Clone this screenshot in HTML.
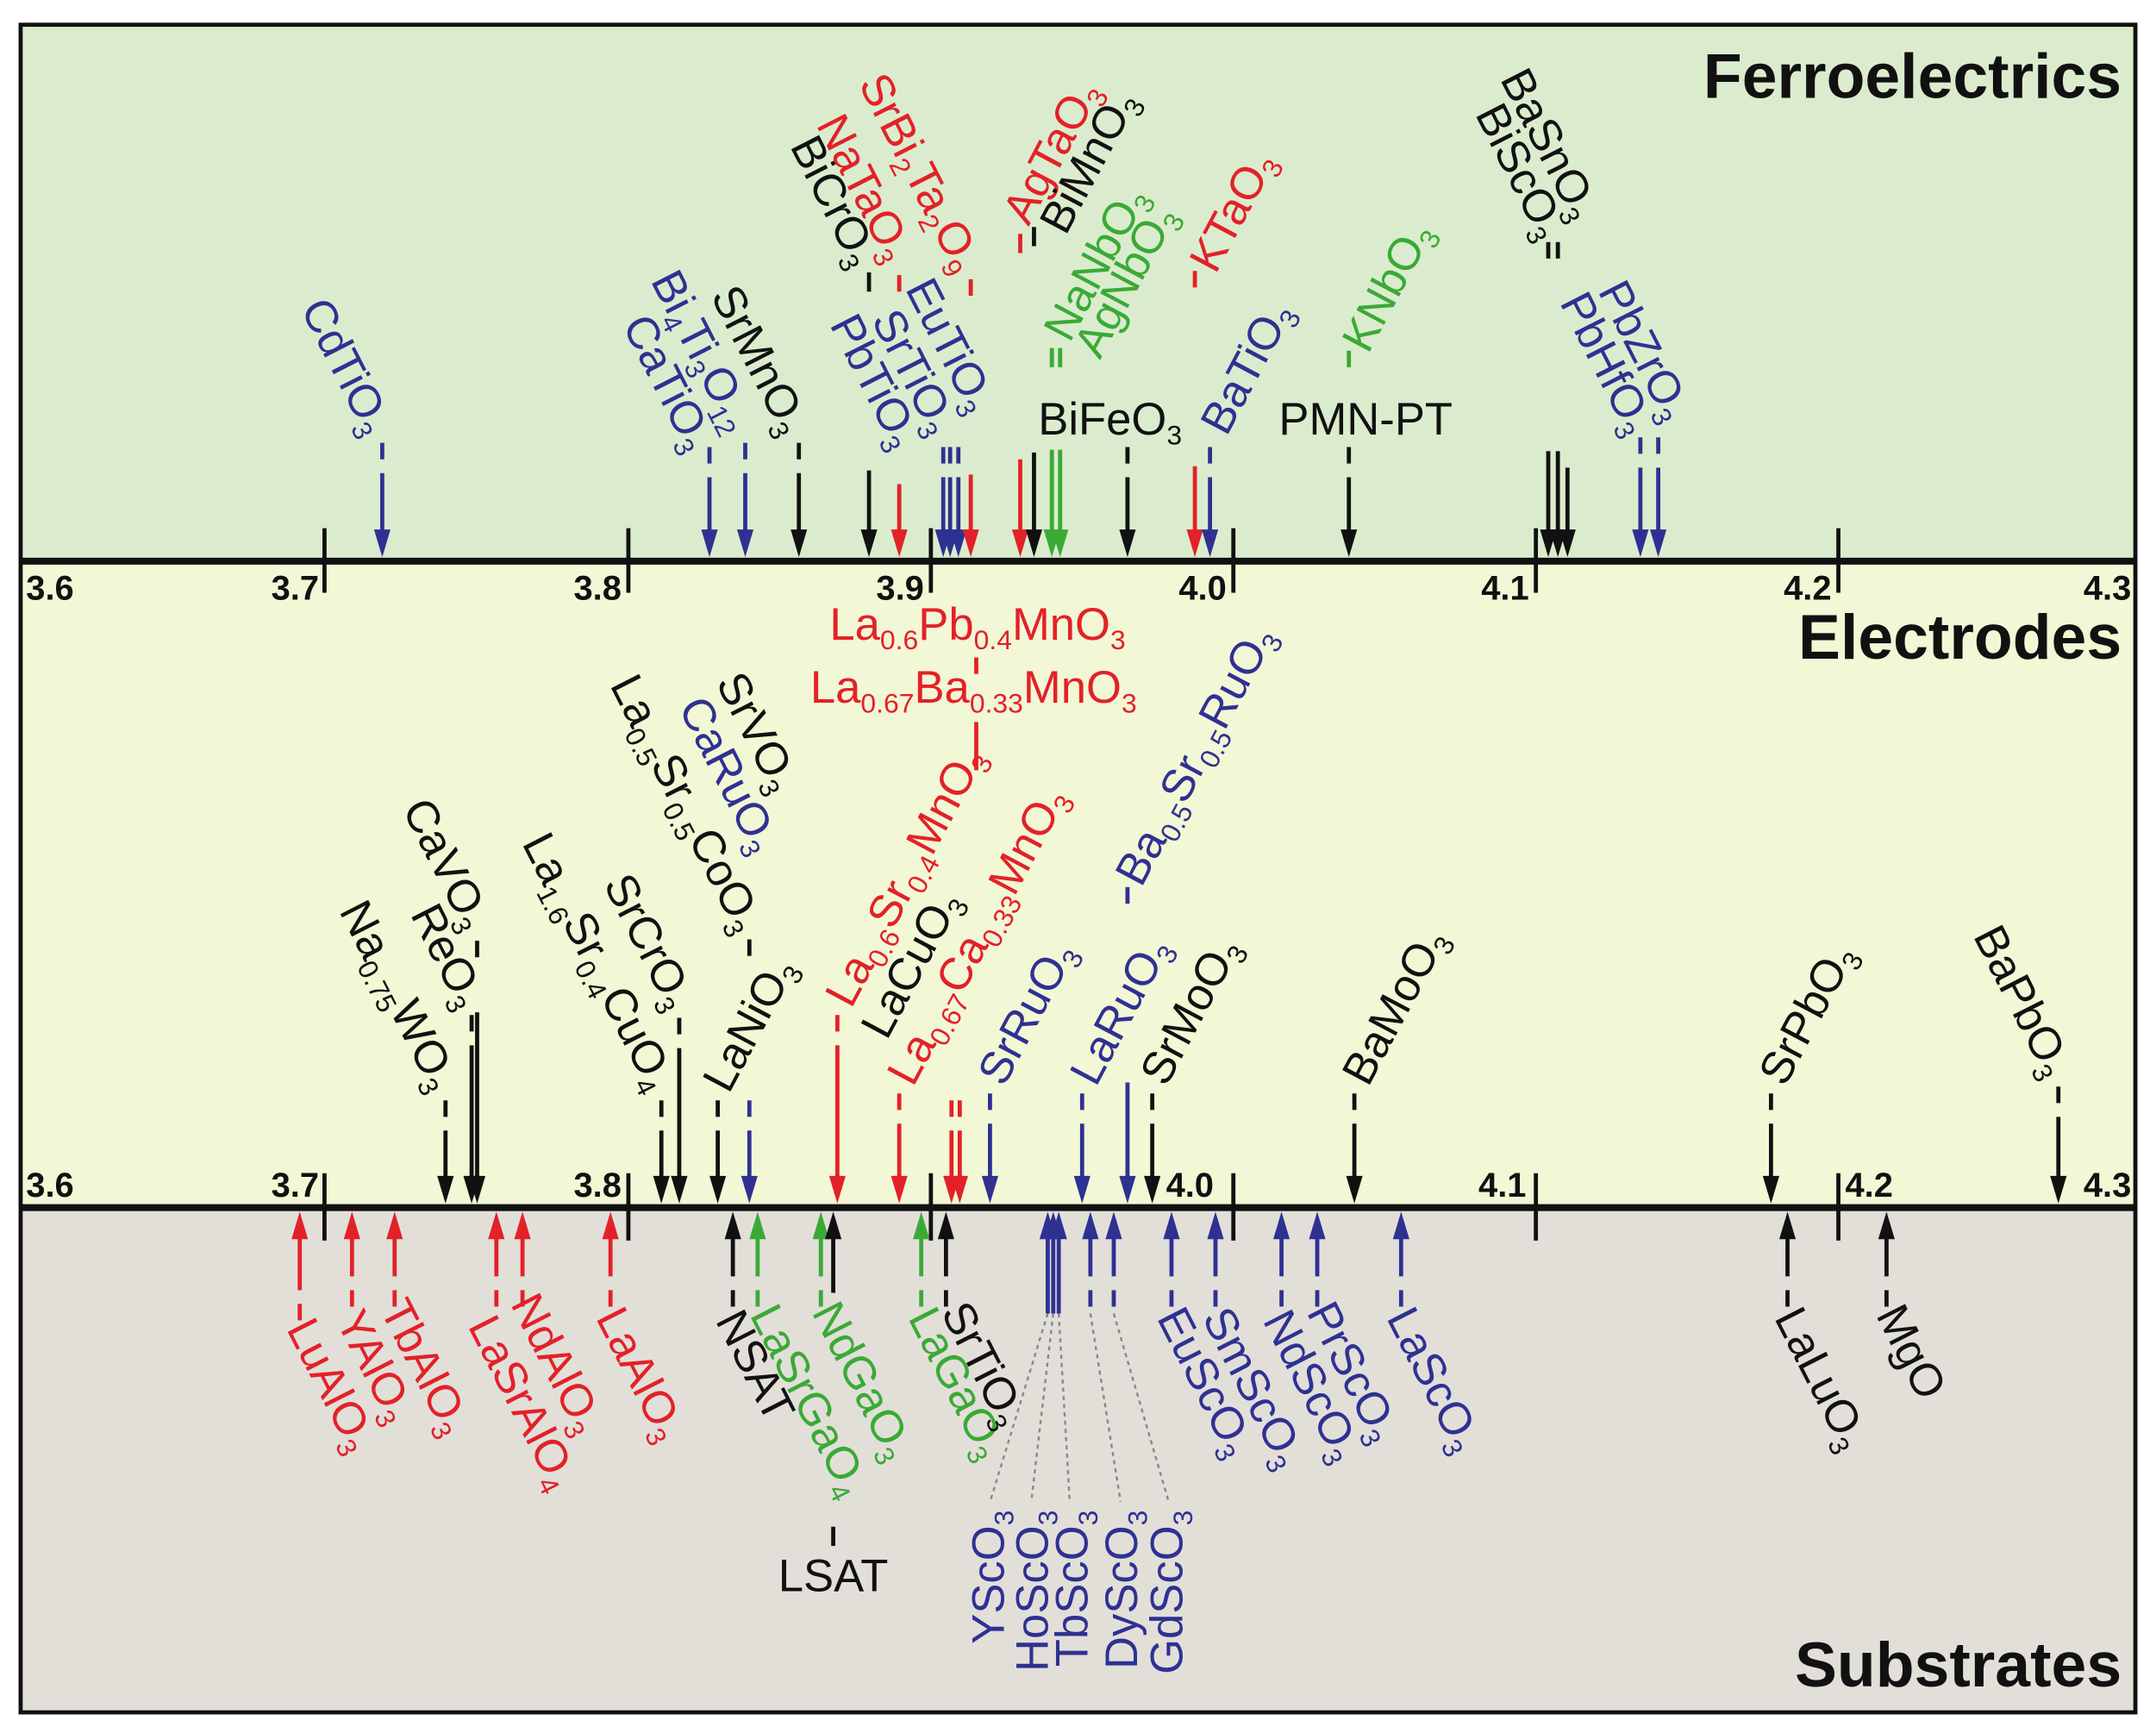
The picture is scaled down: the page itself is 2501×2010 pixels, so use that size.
<!DOCTYPE html>
<html><head><meta charset="utf-8"><style>
html,body{margin:0;padding:0;background:#fff}
svg{display:block}
text{font-family:"Liberation Sans",Arial,sans-serif;font-size:33px}
text.t{font-size:46px;font-weight:bold}
text.ax{font-size:25px;font-weight:bold}
.s{font-size:20px}
.k{fill:#111}.r{fill:#e32128}.u{fill:#2e3192}.g{fill:#3aaa35}
.lk{stroke:#111}.lr{stroke:#e32128}.lu{stroke:#2e3192}.lg{stroke:#3aaa35}
path{fill:none;stroke-width:3}
</style></head><body>
<svg width="2501" height="2010" viewBox="0 0 1568 1260" preserveAspectRatio="none" xmlns="http://www.w3.org/2000/svg">
<rect x="0" y="0" width="1568" height="1260" fill="#fff"/>
<rect x="15" y="18" width="1538" height="390" fill="#dbecce"/>
<rect x="15" y="408" width="1538" height="470" fill="#f2f7d5"/>
<rect x="15" y="878" width="1538" height="367" fill="#e2dfd9"/>
<rect x="15" y="18" width="1538" height="1227" fill="none" stroke="#111" stroke-width="3"/>
<line x1="15" y1="408" x2="1553" y2="408" stroke="#111" stroke-width="5"/>
<line x1="15" y1="878" x2="1553" y2="878" stroke="#111" stroke-width="5"/>
<g stroke="#111" stroke-width="3">
<line x1="236" y1="384" x2="236" y2="431"/><line x1="457" y1="384" x2="457" y2="431"/><line x1="677" y1="384" x2="677" y2="431"/><line x1="897" y1="384" x2="897" y2="431"/><line x1="1117" y1="384" x2="1117" y2="431"/><line x1="1337" y1="384" x2="1337" y2="431"/>
<line x1="236" y1="853" x2="236" y2="902"/><line x1="457" y1="853" x2="457" y2="902"/><line x1="677" y1="853" x2="677" y2="902"/><line x1="897" y1="853" x2="897" y2="902"/><line x1="1117" y1="853" x2="1117" y2="902"/><line x1="1337" y1="853" x2="1337" y2="902"/>
</g>
<g class="k">
<text class="ax" x="19" y="436">3.6</text><text class="ax" x="232" y="436" text-anchor="end">3.7</text><text class="ax" x="452" y="436" text-anchor="end">3.8</text><text class="ax" x="672" y="436" text-anchor="end">3.9</text><text class="ax" x="892" y="436" text-anchor="end">4.0</text><text class="ax" x="1112" y="436" text-anchor="end">4.1</text><text class="ax" x="1332" y="436" text-anchor="end">4.2</text><text class="ax" x="1550" y="436" text-anchor="end">4.3</text>
<text class="ax" x="19" y="870">3.6</text><text class="ax" x="232" y="870" text-anchor="end">3.7</text><text class="ax" x="452" y="870" text-anchor="end">3.8</text><text class="ax" x="848" y="870">4.0</text><text class="ax" x="1110" y="870" text-anchor="end">4.1</text><text class="ax" x="1342" y="870">4.2</text><text class="ax" x="1550" y="870" text-anchor="end">4.3</text>
<text class="t" x="1543" y="71" text-anchor="end">Ferroelectrics</text>
<text class="t" x="1543" y="479" text-anchor="end">Electrodes</text>
<text class="t" x="1543" y="1226" text-anchor="end">Substrates</text>
</g>

<path class="lu" d="M278 322v12m0 10V387"/><polygon class="u" points="272,385 284,385 278,405"/>
<path class="lu" d="M516 325v12m0 10V387"/><polygon class="u" points="510,385 522,385 516,405"/>
<path class="lu" d="M542 322v12m0 10V387"/><polygon class="u" points="536,385 548,385 542,405"/>
<path class="lk" d="M581 322v12m0 10V387"/><polygon class="k" points="575,385 587,385 581,405"/>
<path class="lk" d="M632 198v14m0 130V387"/><polygon class="k" points="626,385 638,385 632,405"/>
<path class="lr" d="M654 200v12m0 140V387"/><polygon class="r" points="648,385 660,385 654,405"/>
<path class="lu" d="M686 325v12m0 10V387"/><polygon class="u" points="680,385 692,385 686,405"/>
<path class="lu" d="M691 325v12m0 10V387"/><polygon class="u" points="685,385 697,385 691,405"/>
<path class="lu" d="M697 325v12m0 10V387"/><polygon class="u" points="691,385 703,385 697,405"/>
<path class="lr" d="M706 203v12m0 130V387"/><polygon class="r" points="700,385 712,385 706,405"/>
<path class="lr" d="M742 170v14m0 150V387"/><polygon class="r" points="736,385 748,385 742,405"/>
<path class="lk" d="M752 165v14m0 150V387"/><polygon class="k" points="746,385 758,385 752,405"/>
<path class="lg" d="M765 253v14m0 60V387"/><polygon class="g" points="759,385 771,385 765,405"/>
<path class="lg" d="M771 253v14m0 60V387"/><polygon class="g" points="765,385 777,385 771,405"/>
<path class="lk" d="M820 325v12m0 10V387"/><polygon class="k" points="814,385 826,385 820,405"/>
<path class="lr" d="M869 197v12m0 130V387"/><polygon class="r" points="863,385 875,385 869,405"/>
<path class="lu" d="M880 325v12m0 10V387"/><polygon class="u" points="874,385 886,385 880,405"/>
<path class="lg" d="M981 255v12"/>
<path class="lk" d="M981 325v12m0 10V387"/><polygon class="k" points="975,385 987,385 981,405"/>
<path class="lk" d="M1126 176v12m0 140V387"/><polygon class="k" points="1120,385 1132,385 1126,405"/>
<path class="lk" d="M1133 176v12m0 140V387"/><polygon class="k" points="1127,385 1139,385 1133,405"/>
<path class="lk" d="M1140 340V387"/><polygon class="k" points="1134,385 1146,385 1140,405"/>
<path class="lu" d="M1193 318v12m0 10V387"/><polygon class="u" points="1187,385 1199,385 1193,405"/>
<path class="lu" d="M1206 318v12m0 10V387"/><polygon class="u" points="1200,385 1212,385 1206,405"/>

<g text-anchor="end">
<text class="u" transform="translate(266,318) rotate(63)">CdTiO<tspan class="s" dy="7">3</tspan></text>
<text class="u" transform="translate(500,330) rotate(63)">CaTiO<tspan class="s" dy="7">3</tspan></text>
<text class="u" transform="translate(530,316) rotate(63)">Bi<tspan class="s" dy="7">4</tspan><tspan dy="-7">Ti</tspan><tspan class="s" dy="7">3</tspan><tspan dy="-7">O</tspan><tspan class="s" dy="7">12</tspan></text>
<text class="k" transform="translate(569,318) rotate(63)">SrMnO<tspan class="s" dy="7">3</tspan></text>
<text class="k" transform="translate(620,196) rotate(63)">BiCrO<tspan class="s" dy="7">3</tspan></text>
<text class="r" transform="translate(645,192) rotate(63)">NaTaO<tspan class="s" dy="7">3</tspan></text>
<text class="r" transform="translate(695,200) rotate(63)">SrBi<tspan class="s" dy="7">2</tspan><tspan dy="-7">Ta</tspan><tspan class="s" dy="7">2</tspan><tspan dy="-7">O</tspan><tspan class="s" dy="7">9</tspan></text>
<text class="u" transform="translate(650,328) rotate(63)">PbTiO<tspan class="s" dy="7">3</tspan></text>
<text class="u" transform="translate(677,318) rotate(63)">SrTiO<tspan class="s" dy="7">3</tspan></text>
<text class="u" transform="translate(705,302) rotate(63)">EuTiO<tspan class="s" dy="7">3</tspan></text>
<text class="k" transform="translate(1120,176) rotate(63)">BiScO<tspan class="s" dy="7">3</tspan></text>
<text class="k" transform="translate(1144,162) rotate(63)">BaSnO<tspan class="s" dy="7">3</tspan></text>
<text class="u" transform="translate(1184,318) rotate(63)">PbHfO<tspan class="s" dy="7">3</tspan></text>
<text class="u" transform="translate(1211,308) rotate(63)">PbZrO<tspan class="s" dy="7">3</tspan></text>
</g>
<g>
<text class="r" transform="translate(748,165) rotate(-62)">AgTaO<tspan class="s" dy="7">3</tspan></text>
<text class="k" transform="translate(775,172) rotate(-62)">BiMnO<tspan class="s" dy="7">3</tspan></text>
<text class="g" transform="translate(778,250) rotate(-62)">NaNbO<tspan class="s" dy="7">3</tspan></text>
<text class="g" transform="translate(800,262) rotate(-62)">AgNbO<tspan class="s" dy="7">3</tspan></text>
<text class="r" transform="translate(884,200) rotate(-62)">KTaO<tspan class="s" dy="7">3</tspan></text>
<text class="u" transform="translate(892,318) rotate(-62)">BaTiO<tspan class="s" dy="7">3</tspan></text>
<text class="g" transform="translate(995,258) rotate(-62)">KNbO<tspan class="s" dy="7">3</tspan></text>
<text class="k" x="755" y="316">BiFeO<tspan class="s" dy="7">3</tspan></text>
<text class="k" x="930" y="316">PMN-PT</text>
</g>

<path class="lk" d="M324 800v12m0 10V857"/><polygon class="k" points="318,855 330,855 324,875"/>
<path class="lk" d="M343 738v12m0 10V857"/><polygon class="k" points="337,855 349,855 343,875"/>
<path class="lk" d="M347 684v12m0 40V857"/><polygon class="k" points="341,855 353,855 347,875"/>
<path class="lk" d="M481 800v12m0 10V857"/><polygon class="k" points="475,855 487,855 481,875"/>
<path class="lk" d="M494 740v12m0 10V857"/><polygon class="k" points="488,855 500,855 494,875"/>
<path class="lk" d="M522 800v12m0 10V857"/><polygon class="k" points="516,855 528,855 522,875"/>
<path class="lk" d="M545 683v12"/>
<path class="lu" d="M545 800v12m0 10V857"/><polygon class="u" points="539,855 551,855 545,875"/>
<path class="lr" d="M609 738v12m0 10V857"/><polygon class="r" points="603,855 615,855 609,875"/>
<path class="lr" d="M654 795v12m0 10V857"/><polygon class="r" points="648,855 660,855 654,875"/>
<path class="lr" d="M710 478v12m0 35v35"/>
<path class="lr" d="M692 800v12m0 10V857"/><polygon class="r" points="686,855 698,855 692,875"/>
<path class="lr" d="M698 800v12m0 10V857"/><polygon class="r" points="692,855 704,855 698,875"/>
<path class="lu" d="M720 795v12m0 10V857"/><polygon class="u" points="714,855 726,855 720,875"/>
<path class="lu" d="M787 795v12m0 10V857"/><polygon class="u" points="781,855 793,855 787,875"/>
<path class="lu" d="M820 645v12m0 130V857"/><polygon class="u" points="814,855 826,855 820,875"/>
<path class="lk" d="M838 795v12m0 10V857"/><polygon class="k" points="832,855 844,855 838,875"/>
<path class="lk" d="M985 795v12m0 10V857"/><polygon class="k" points="979,855 991,855 985,875"/>
<path class="lk" d="M1288 795v12m0 10V857"/><polygon class="k" points="1282,855 1294,855 1288,875"/>
<path class="lk" d="M1497 790v12m0 10V857"/><polygon class="k" points="1491,855 1503,855 1497,875"/>

<g text-anchor="end">
<text class="k" transform="translate(314,795) rotate(63)">Na<tspan class="s" dy="7">0.75</tspan><tspan dy="-7">WO</tspan><tspan class="s" dy="7">3</tspan></text>
<text class="k" transform="translate(334,735) rotate(63)">ReO<tspan class="s" dy="7">3</tspan></text>
<text class="k" transform="translate(338,678) rotate(63)">CaVO<tspan class="s" dy="7">3</tspan></text>
<text class="k" transform="translate(472,795) rotate(63)">La<tspan class="s" dy="7">1.6</tspan><tspan dy="-7">Sr</tspan><tspan class="s" dy="7">0.4</tspan><tspan dy="-7">CuO</tspan><tspan class="s" dy="7">4</tspan></text>
<text class="k" transform="translate(486,736) rotate(63)">SrCrO<tspan class="s" dy="7">3</tspan></text>
<text class="k" transform="translate(536,680) rotate(63)">La<tspan class="s" dy="7">0.5</tspan><tspan dy="-7">Sr</tspan><tspan class="s" dy="7">0.5</tspan><tspan dy="-7">CoO</tspan><tspan class="s" dy="7">3</tspan></text>
<text class="u" transform="translate(548,622) rotate(63)">CaRuO<tspan class="s" dy="7">3</tspan></text>
<text class="k" transform="translate(562,578) rotate(63)">SrVO<tspan class="s" dy="7">3</tspan></text>
<text class="k" transform="translate(1488,785) rotate(63)">BaPbO<tspan class="s" dy="7">3</tspan></text>
</g>
<g>
<text class="k" transform="translate(530,796) rotate(-62)">LaNiO<tspan class="s" dy="7">3</tspan></text>
<text class="r" transform="translate(619,734) rotate(-62)">La<tspan class="s" dy="7">0.6</tspan><tspan dy="-7">Sr</tspan><tspan class="s" dy="7">0.4</tspan><tspan dy="-7">MnO</tspan><tspan class="s" dy="7">3</tspan></text>
<text class="k" transform="translate(645,757) rotate(-62)">LaCuO<tspan class="s" dy="7">3</tspan></text>
<text class="r" transform="translate(664,791) rotate(-62)">La<tspan class="s" dy="7">0.67</tspan><tspan dy="-7">Ca</tspan><tspan class="s" dy="7">0.33</tspan><tspan dy="-7">MnO</tspan><tspan class="s" dy="7">3</tspan></text>
<text class="u" transform="translate(730,791) rotate(-62)">SrRuO<tspan class="s" dy="7">3</tspan></text>
<text class="u" transform="translate(797,791) rotate(-62)">LaRuO<tspan class="s" dy="7">3</tspan></text>
<text class="u" transform="translate(830,646) rotate(-62)">Ba<tspan class="s" dy="7">0.5</tspan><tspan dy="-7">Sr</tspan><tspan class="s" dy="7">0.5</tspan><tspan dy="-7">RuO</tspan><tspan class="s" dy="7">3</tspan></text>
<text class="k" transform="translate(848,791) rotate(-62)">SrMoO<tspan class="s" dy="7">3</tspan></text>
<text class="k" transform="translate(995,791) rotate(-62)">BaMoO<tspan class="s" dy="7">3</tspan></text>
<text class="k" transform="translate(1298,791) rotate(-62)">SrPbO<tspan class="s" dy="7">3</tspan></text>
<text class="r" x="711" y="465" text-anchor="middle">La<tspan class="s" dy="7">0.6</tspan><tspan dy="-7">Pb</tspan><tspan class="s" dy="7">0.4</tspan><tspan dy="-7">MnO</tspan><tspan class="s" dy="7">3</tspan></text>
<text class="r" x="708" y="511" text-anchor="middle">La<tspan class="s" dy="7">0.67</tspan><tspan dy="-7">Ba</tspan><tspan class="s" dy="7">0.33</tspan><tspan dy="-7">MnO</tspan><tspan class="s" dy="7">3</tspan></text>
</g>

<path class="lr" d="M218 899V938m0 10v12"/><polygon class="r" points="212,901 224,901 218,881"/>
<path class="lr" d="M256 899V928m0 10v12"/><polygon class="r" points="250,901 262,901 256,881"/>
<path class="lr" d="M287 899V928m0 10v12"/><polygon class="r" points="281,901 293,901 287,881"/>
<path class="lr" d="M361 899V928m0 10v12"/><polygon class="r" points="355,901 367,901 361,881"/>
<path class="lr" d="M380 899V928m0 10v12"/><polygon class="r" points="374,901 386,901 380,881"/>
<path class="lr" d="M444 899V928m0 10v12"/><polygon class="r" points="438,901 450,901 444,881"/>
<path class="lk" d="M533 899V928m0 10v12"/><polygon class="k" points="527,901 539,901 533,881"/>
<path class="lg" d="M551 899V928m0 10v12"/><polygon class="g" points="545,901 557,901 551,881"/>
<path class="lg" d="M597 899V928m0 10v12"/><polygon class="g" points="591,901 603,901 597,881"/>
<path class="lk" d="M606 899V940m0 170v14"/><polygon class="k" points="600,901 612,901 606,881"/>
<path class="lg" d="M670 899V928m0 10v12"/><polygon class="g" points="664,901 676,901 670,881"/>
<path class="lk" d="M688 899V928m0 10v12"/><polygon class="k" points="682,901 694,901 688,881"/>
<path class="lu" d="M762 899V955"/><polygon class="u" points="756,901 768,901 762,881"/>
<path class="lu" d="M766 899V955"/><polygon class="u" points="760,901 772,901 766,881"/>
<path class="lu" d="M770 899V955"/><polygon class="u" points="764,901 776,901 770,881"/>
<path class="lu" d="M793 899V928m0 10v12"/><polygon class="u" points="787,901 799,901 793,881"/>
<path class="lu" d="M810 899V928m0 10v12"/><polygon class="u" points="804,901 816,901 810,881"/>
<path class="lu" d="M852 899V928m0 10v12"/><polygon class="u" points="846,901 858,901 852,881"/>
<path class="lu" d="M884 899V928m0 10v12"/><polygon class="u" points="878,901 890,901 884,881"/>
<path class="lu" d="M932 899V928m0 10v12"/><polygon class="u" points="926,901 938,901 932,881"/>
<path class="lu" d="M958 899V928m0 10v12"/><polygon class="u" points="952,901 964,901 958,881"/>
<path class="lu" d="M1019 899V928m0 10v12"/><polygon class="u" points="1013,901 1025,901 1019,881"/>
<path class="lk" d="M1300 899V928m0 10v12"/><polygon class="k" points="1294,901 1306,901 1300,881"/>
<path class="lk" d="M1372 899V928m0 10v12"/><polygon class="k" points="1366,901 1378,901 1372,881"/>
<g stroke="#888" stroke-width="1.5" stroke-dasharray="3 3" fill="none">
<line x1="762" y1="955" x2="720" y2="1092"/>
<line x1="766" y1="955" x2="750" y2="1092"/>
<line x1="770" y1="955" x2="778" y2="1092"/>
<line x1="793" y1="955" x2="815" y2="1092"/>
<line x1="810" y1="955" x2="850" y2="1092"/>
</g>
<g>
<text class="r" transform="translate(208,966) rotate(63)">LuAlO<tspan class="s" dy="7">3</tspan></text>
<text class="r" transform="translate(244,960) rotate(63)">YAlO<tspan class="s" dy="7">3</tspan></text>
<text class="r" transform="translate(276,952) rotate(63)">TbAlO<tspan class="s" dy="7">3</tspan></text>
<text class="r" transform="translate(340,964) rotate(63)">LaSrAlO<tspan class="s" dy="7">4</tspan></text>
<text class="r" transform="translate(371,948) rotate(63)">NdAlO<tspan class="s" dy="7">3</tspan></text>
<text class="r" transform="translate(433,958) rotate(63)">LaAlO<tspan class="s" dy="7">3</tspan></text>
<text class="k" transform="translate(520,960) rotate(63)">NSAT</text>
<text class="g" transform="translate(545,956) rotate(63)">LaSrGaO<tspan class="s" dy="7">4</tspan></text>
<text class="g" transform="translate(590,954) rotate(63)">NdGaO<tspan class="s" dy="7">3</tspan></text>
<text class="g" transform="translate(660,958) rotate(63)">LaGaO<tspan class="s" dy="7">3</tspan></text>
<text class="k" transform="translate(684,954) rotate(63)">SrTiO<tspan class="s" dy="7">3</tspan></text>
<text class="u" transform="translate(841,958) rotate(63)">EuScO<tspan class="s" dy="7">3</tspan></text>
<text class="u" transform="translate(874,958) rotate(63)">SmScO<tspan class="s" dy="7">3</tspan></text>
<text class="u" transform="translate(918,960) rotate(63)">NdScO<tspan class="s" dy="7">3</tspan></text>
<text class="u" transform="translate(950,954) rotate(63)">PrScO<tspan class="s" dy="7">3</tspan></text>
<text class="u" transform="translate(1008,958) rotate(63)">LaScO<tspan class="s" dy="7">3</tspan></text>
<text class="k" transform="translate(1290,958) rotate(63)">LaLuO<tspan class="s" dy="7">3</tspan></text>
<text class="k" transform="translate(1364,956) rotate(63)">MgO</text>
<text class="k" x="606" y="1157" text-anchor="middle">LSAT</text>
</g>
<g text-anchor="end">
<text class="u" transform="translate(730,1098) rotate(-90)">YScO<tspan class="s" dy="7">3</tspan></text>
<text class="u" transform="translate(762,1098) rotate(-90)">HoScO<tspan class="s" dy="7">3</tspan></text>
<text class="u" transform="translate(791,1098) rotate(-90)">TbScO<tspan class="s" dy="7">3</tspan></text>
<text class="u" transform="translate(827,1098) rotate(-90)">DyScO<tspan class="s" dy="7">3</tspan></text>
<text class="u" transform="translate(860,1098) rotate(-90)">GdScO<tspan class="s" dy="7">3</tspan></text>
</g>
</svg>
</body></html>
